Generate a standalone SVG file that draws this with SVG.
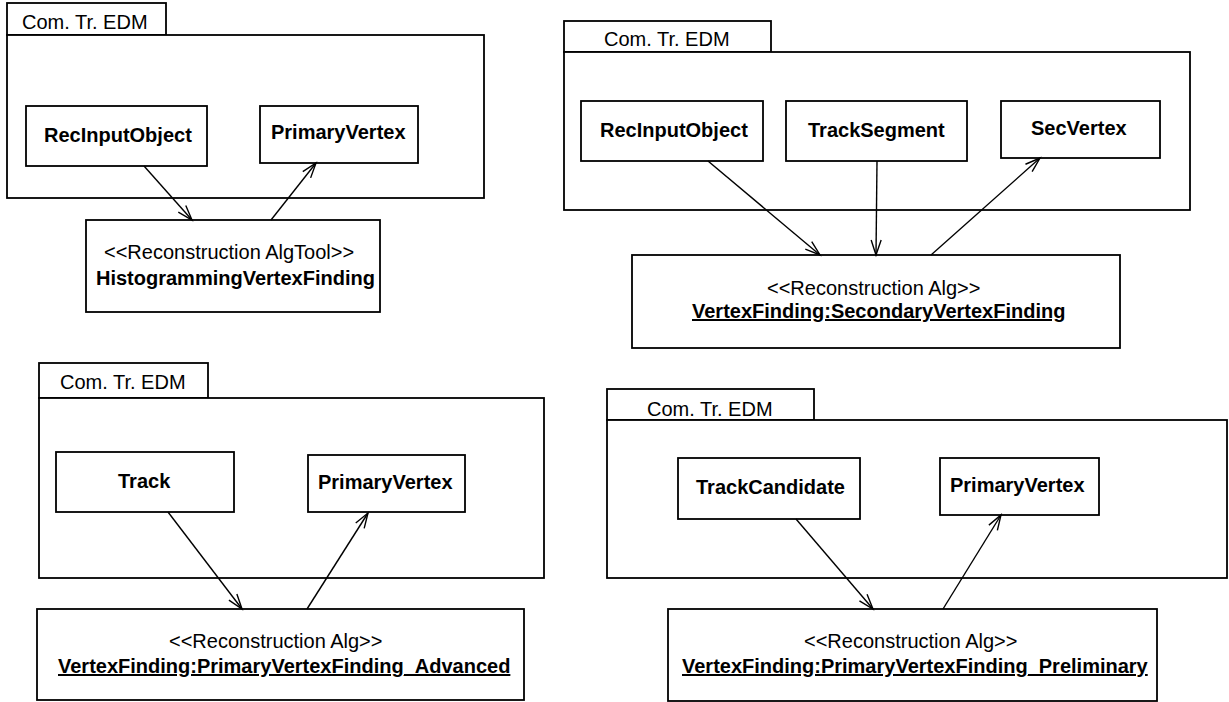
<svg xmlns="http://www.w3.org/2000/svg" width="1229" height="702" viewBox="0 0 1229 702">
  <style>
    .pkg { fill: #fff; stroke: #000; stroke-width: 1.8; }
    .cls { fill: #fff; stroke: #000; stroke-width: 1.8; }
    .tab-label { font-family: "Liberation Sans", Arial, sans-serif; font-size: 20px; fill: #000; }
    .cls-label { font-family: "Liberation Sans", Arial, sans-serif; font-size: 20px; font-weight: bold; fill: #000; }
    .stereo { font-family: "Liberation Sans", Arial, sans-serif; font-size: 20px; fill: #000; }
    .inst { font-family: "Liberation Sans", Arial, sans-serif; font-size: 20px; font-weight: bold; fill: #000; text-decoration: underline; }
    .dep { fill: none; stroke: #000; stroke-width: 1.4; marker-end: url(#open); }
  </style>
  <defs>
    <marker id="open" markerUnits="userSpaceOnUse" markerWidth="20" markerHeight="14" viewBox="-17 -7 20 14" refX="0" refY="0" orient="auto">
      <path d="M -15 -5 L 0 0 L -15 5" fill="none" stroke="#000" stroke-width="1.4"/>
    </marker>
  </defs>
  <rect width="1229" height="702" fill="#fff"/>

  <!-- Package: histogramming vertex finding (top left) -->
  <g id="pkg-tl">
    <rect class="pkg" x="7" y="3" width="159" height="32"/>
    <rect class="pkg" x="7" y="35" width="477" height="163"/>
    <text class="tab-label" x="22" y="29">Com. Tr. EDM</text>
  </g>
  <g id="tl-recinput">
    <rect class="cls" x="26" y="106" width="181" height="60"/>
    <text class="cls-label" x="44" y="142">RecInputObject</text>
  </g>
  <g id="tl-primaryvertex">
    <rect class="cls" x="260" y="106" width="158" height="57"/>
    <text class="cls-label" x="271" y="139">PrimaryVertex</text>
  </g>
  <g id="tl-alg">
    <rect class="cls" x="86" y="220" width="294" height="92"/>
    <text class="stereo" x="104" y="259">&lt;&lt;Reconstruction AlgTool&gt;&gt;</text>
    <text class="cls-label" x="96" y="285">HistogrammingVertexFinding</text>
  </g>

  <!-- Package: secondary vertex finding (top right) -->
  <g id="pkg-tr">
    <rect class="pkg" x="564" y="21" width="207" height="31"/>
    <rect class="pkg" x="564" y="52" width="626" height="158"/>
    <text class="tab-label" x="604" y="46">Com. Tr. EDM</text>
  </g>
  <g id="tr-recinput">
    <rect class="cls" x="581" y="101" width="182" height="60"/>
    <text class="cls-label" x="600" y="137">RecInputObject</text>
  </g>
  <g id="tr-tracksegment">
    <rect class="cls" x="786" y="101" width="181" height="60"/>
    <text class="cls-label" x="808" y="137">TrackSegment</text>
  </g>
  <g id="tr-secvertex">
    <rect class="cls" x="1001" y="101" width="159" height="57"/>
    <text class="cls-label" x="1031" y="135">SecVertex</text>
  </g>
  <g id="tr-alg">
    <rect class="cls" x="632" y="255" width="488" height="93"/>
    <text class="stereo" x="767" y="295">&lt;&lt;Reconstruction Alg&gt;&gt;</text>
    <text class="inst" x="692" y="318">VertexFinding:SecondaryVertexFinding</text>
  </g>

  <!-- Package: advanced primary vertex finding (bottom left) -->
  <g id="pkg-bl">
    <rect class="pkg" x="39" y="363" width="169" height="35"/>
    <rect class="pkg" x="39" y="398" width="505" height="180"/>
    <text class="tab-label" x="60" y="389">Com. Tr. EDM</text>
  </g>
  <g id="bl-track">
    <rect class="cls" x="56" y="452" width="178" height="60"/>
    <text class="cls-label" x="118" y="488">Track</text>
  </g>
  <g id="bl-primaryvertex">
    <rect class="cls" x="308" y="455" width="157" height="57"/>
    <text class="cls-label" x="318" y="489">PrimaryVertex</text>
  </g>
  <g id="bl-alg">
    <rect class="cls" x="37" y="609" width="487" height="91"/>
    <text class="stereo" x="169" y="648">&lt;&lt;Reconstruction Alg&gt;&gt;</text>
    <text class="inst" x="58" y="673">VertexFinding:PrimaryVertexFinding_Advanced</text>
  </g>

  <!-- Package: preliminary primary vertex finding (bottom right) -->
  <g id="pkg-br">
    <rect class="pkg" x="607" y="389" width="207" height="31"/>
    <rect class="pkg" x="607" y="420" width="620" height="158"/>
    <text class="tab-label" x="647" y="416">Com. Tr. EDM</text>
  </g>
  <g id="br-trackcandidate">
    <rect class="cls" x="678" y="458" width="182" height="61"/>
    <text class="cls-label" x="696" y="494">TrackCandidate</text>
  </g>
  <g id="br-primaryvertex">
    <rect class="cls" x="940" y="458" width="159" height="57"/>
    <text class="cls-label" x="950" y="492">PrimaryVertex</text>
  </g>
  <g id="br-alg">
    <rect class="cls" x="668" y="609" width="489" height="92"/>
    <text class="stereo" x="804" y="648">&lt;&lt;Reconstruction Alg&gt;&gt;</text>
    <text class="inst" x="682" y="673">VertexFinding:PrimaryVertexFinding_Preliminary</text>
  </g>

  <!-- Dependencies -->
  <g id="connectors">
    <line class="dep" x1="144" y1="166" x2="192" y2="220"/>
    <line class="dep" x1="271" y1="220" x2="316" y2="163"/>

    <line class="dep" x1="708" y1="161" x2="820" y2="255"/>
    <line class="dep" x1="877" y1="161" x2="876" y2="255"/>
    <line class="dep" x1="931" y1="255" x2="1040" y2="158"/>

    <line class="dep" x1="168" y1="512" x2="242" y2="609"/>
    <line class="dep" x1="307" y1="609" x2="368" y2="513"/>

    <line class="dep" x1="796" y1="519" x2="873" y2="609"/>
    <line class="dep" x1="943" y1="609" x2="1001" y2="515"/>
  </g>
</svg>
